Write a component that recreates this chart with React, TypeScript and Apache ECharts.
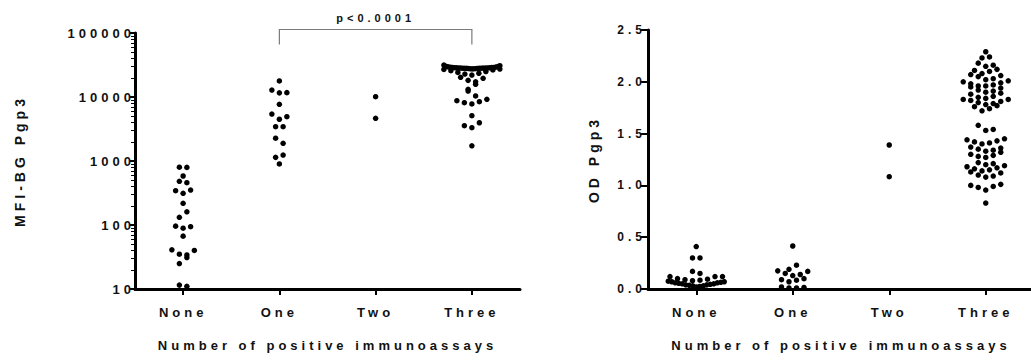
import React, { useEffect, useRef } from 'react';
import * as echarts from 'echarts';

// ---------- data ----------
const categories = ['None', 'One', 'Two', 'Three'];

// Left panel: MFI-BG Pgp3 (log scale)
const mfiNone = [800, 795, 583, 482, 458, 352, 344, 313, 218, 161, 132, 96, 94, 89, 67, 41, 40, 35, 34, 31, 25, 11.5, 11];
const mfiOne = [17800, 12850, 11700, 11600, 7690, 5420, 4920, 4490, 3440, 3430, 2270, 1890, 1240, 1140, 900];
const mfiTwo = [10100, 4640];
const mfiThree = [
  31500, 30800, 30200, 29800, 29600, 29400, 29200, 29000, 28900, 28800, 28700, 28600, 28500, 28450, 28400,
  28350, 28300, 28250, 28200, 28150, 28100, 28050, 28000, 27900, 27800, 27700, 27600, 27500, 27300, 27000,
  26500, 25800, 25000, 24200, 23500, 22800, 22000,
  20300, 19600, 18200, 17300, 15800, 13200, 12400, 10400, 9200, 8760, 8450, 8140, 7780, 5100, 3960, 3560, 3310, 1730,
];

// Right panel: OD Pgp3 (linear)
const odNone = [
  0.41, 0.30, 0.30, 0.17, 0.15, 0.12, 0.12, 0.12,
  0.10, 0.095, 0.09, 0.085, 0.08, 0.075, 0.07, 0.07, 0.065, 0.06, 0.06, 0.055, 0.05, 0.05, 0.045, 0.04, 0.04, 0.035,
  0.03, 0.03, 0.025, 0.02,
];
const odOne = [0.415, 0.23, 0.19, 0.175, 0.17, 0.15, 0.14, 0.13, 0.10, 0.09, 0.085, 0.07, 0.02, 0.015, 0.01, 0.01];
const odTwo = [1.39, 1.084];
const odThree = [
  2.29, 2.24, 2.23, 2.18, 2.16, 2.15, 2.12, 2.11, 2.10, 2.08, 2.07, 2.06, 2.05,
  2.03, 2.02, 2.01, 2.00, 1.99, 1.98, 1.97, 1.96, 1.96, 1.95, 1.94,
  1.92, 1.91, 1.90, 1.89, 1.88, 1.86, 1.85, 1.84, 1.83, 1.83, 1.82, 1.81, 1.80,
  1.79, 1.78, 1.77, 1.76, 1.74, 1.72,
  1.58, 1.54, 1.53,
  1.45, 1.44, 1.43, 1.42, 1.41, 1.40, 1.37, 1.36, 1.35, 1.34, 1.33, 1.32,
  1.30, 1.29, 1.28, 1.27, 1.22, 1.21, 1.20, 1.19,
  1.18, 1.17, 1.16, 1.15, 1.14, 1.13, 1.12, 1.10, 1.09, 1.08,
  1.01, 1.00, 0.99, 0.98, 0.955, 0.83,
];

const mfiDecades = [10, 100, 1000, 10000];
const mfiMax = 100000;
const minorMultipliers = [2, 3, 4, 5, 6, 7, 8, 9];
const odTicks = [0, 0.5, 1.0, 1.5, 2.0, 2.5];

const pText = 'p<0.0001';
const xTitle = 'Number of positive immunoassays';
const yTitleLeft = 'MFI-BG Pgp3';
const yTitleRight = 'OD Pgp3';

// ---------- styling ----------
const FONT = "'Liberation Sans', Arial, Helvetica, sans-serif";
const TXT = '#111111';
const AX = '#000000';

// Prism-like column scatter layout: bins by pixel height, rows centered, low values in centre
function swarmOffsets(pys: number[], vals: number[], binH: number, sp: number, maxW: number): number[] {
  const idx = vals.map((_, i) => i).sort((a, b) => vals[a] - vals[b]);
  const out = new Array(vals.length).fill(0);
  const bins: number[][] = [];
  let cur: number[] = [];
  let start = 0;
  idx.forEach((i) => {
    if (cur.length === 0) {
      cur.push(i);
      start = pys[i];
    } else if (Math.abs(start - pys[i]) < binH) {
      cur.push(i);
    } else {
      bins.push(cur);
      cur = [i];
      start = pys[i];
    }
  });
  if (cur.length) bins.push(cur);
  bins.forEach((bin, bi) => {
    const n = bin.length;
    const s = n > 1 ? Math.min(sp, (2 * maxW) / (n - 1)) : sp;
    const slots: number[] = [];
    for (let k = 0; k < n; k++) slots.push((k - (n - 1) / 2) * s);
    const sign = bi % 2 === 0 ? 1 : -1;
    slots.sort((a, b) => Math.abs(a) - Math.abs(b) || sign * (b - a));
    bin.forEach((i, k) => {
      out[i] = slots[k];
    });
  });
  return out;
}

function baseOption(leftData: any[], rightData: any[]) {
  const axisLabel = { fontFamily: FONT, fontWeight: 'bold', color: TXT };
  const xAxisCommon = (gi: number) => ({
    type: 'category',
    gridIndex: gi,
    data: categories,
    boundaryGap: true,
    axisLine: { show: true, lineStyle: { color: AX, width: 3, opacity: 1 } },
    axisTick: { show: true, alignWithLabel: true, length: 6, lineStyle: { color: AX, width: 2, opacity: 1 } },
    axisLabel: { ...axisLabel, fontSize: 13, margin: 17 },
    splitLine: { show: false },
    name: xTitle,
    nameLocation: 'middle',
    nameGap: 50,
    nameMoveOverlap: false,
    nameTextStyle: { fontFamily: FONT, fontWeight: 'bold', fontSize: 13, color: TXT },
  });
  return {
    animation: false,
    backgroundColor: '#ffffff',
    grid: [
      { left: 135, top: 33, width: 385, height: 256, outerBoundsMode: 'none', containLabel: false },
      { left: 648, top: 30, width: 386, height: 259, outerBoundsMode: 'none', containLabel: false },
    ],
    xAxis: [xAxisCommon(0), xAxisCommon(1)],
    yAxis: [
      {
        type: 'log',
        logBase: 10,
        gridIndex: 0,
        min: mfiDecades[0],
        max: mfiMax,
        axisLine: { show: true, lineStyle: { color: AX, width: 3, opacity: 1 } },
        axisTick: { show: true, length: 5, lineStyle: { color: AX, width: 2, opacity: 1 } },
        axisLabel: { ...axisLabel, fontSize: 13, margin: 0, formatter: (v: number) => String(Math.round(v)) },
        splitLine: { show: false },
        name: yTitleLeft,
        nameLocation: 'middle',
        nameRotate: 90,
        nameGap: 108,
        nameMoveOverlap: false,
        nameTextStyle: { fontFamily: FONT, fontWeight: 'bold', fontSize: 14, color: TXT },
      },
      {
        type: 'value',
        gridIndex: 1,
        min: odTicks[0],
        max: odTicks[odTicks.length - 1],
        interval: 0.5,
        axisLine: { show: true, lineStyle: { color: AX, width: 3, opacity: 1 } },
        axisTick: { show: true, length: 8, lineStyle: { color: AX, width: 2, opacity: 1 } },
        axisLabel: { ...axisLabel, fontSize: 12, margin: 2, formatter: (v: number) => v.toFixed(1) },
        splitLine: { show: false },
        name: yTitleRight,
        nameLocation: 'middle',
        nameRotate: 90,
        nameGap: 47,
        nameMoveOverlap: false,
        nameTextStyle: { fontFamily: FONT, fontWeight: 'bold', fontSize: 14, color: TXT },
      },
    ],
    series: [
      {
        type: 'scatter',
        xAxisIndex: 0,
        yAxisIndex: 0,
        symbol: 'circle',
        symbolSize: 5.5,
        itemStyle: { color: '#000', opacity: 1 },
        data: leftData,
        z: 5,
      },
      {
        type: 'scatter',
        xAxisIndex: 1,
        yAxisIndex: 1,
        symbol: 'circle',
        symbolSize: 5.5,
        itemStyle: { color: '#000', opacity: 1 },
        data: rightData,
        z: 5,
      },
      {
        type: 'custom',
        xAxisIndex: 0,
        yAxisIndex: 0,
        clip: false,
        silent: true,
        data: mfiDecades.flatMap((d) => minorMultipliers.map((m) => [0, d * m])),
        renderItem: (params: any, api: any) => {
          const y = Math.round(api.coord([0, api.value(1)])[1]) + 0.5;
          const x0 = params.coordSys.x;
          return {
            type: 'line',
            shape: { x1: x0 - 4, y1: y, x2: x0, y2: y },
            style: { stroke: AX, lineWidth: 1 },
          };
        },
      },
      {
        type: 'custom',
        xAxisIndex: 0,
        yAxisIndex: 0,
        clip: false,
        silent: true,
        data: [[1, 3]],
        renderItem: (params: any, api: any) => {
          const a = api.coord([api.value(0), mfiMax]);
          const b = api.coord([api.value(1), mfiMax]);
          const top = Math.round(a[1] - 4) + 0.5;
          const mid = (a[0] + b[0]) / 2;
          return {
            type: 'group',
            children: [
              {
                type: 'polyline',
                shape: { points: [[a[0], top + 15], [a[0], top], [b[0], top], [b[0], top + 15]] },
                style: { stroke: '#7a7a7a', lineWidth: 1.2, fill: 'none' },
              },
              {
                type: 'text',
                x: mid,
                y: top - 12,
                style: {
                  text: pText,
                  textAlign: 'center',
                  textVerticalAlign: 'middle',
                  font: `bold 11px ${FONT}`,
                  fill: TXT,
                },
              },
            ],
          };
        },
      },
    ],
  };
}

export default function App() {
  const ref = useRef<HTMLDivElement>(null);
  useEffect(() => {
    const el = ref.current!;
    const chart = echarts.init(el, null, { renderer: 'svg' });
    const leftGroups = [mfiNone, mfiOne, mfiTwo, mfiThree];
    const rightGroups = [odNone, odOne, odTwo, odThree];
    const plain = (groups: number[][]) => groups.flatMap((g, gi) => g.map((v) => [gi, v]));
    chart.setOption(baseOption(plain(leftGroups), plain(rightGroups)) as any);

    const layout = (groups: number[][], axis: number) =>
      groups.flatMap((g, gi) => {
        const pys = g.map((v) => chart.convertToPixel({ yAxisIndex: axis } as any, v) as unknown as number);
        const offs = swarmOffsets(pys, g, 6, 7.5, 28);
        return g.map((v, i) => ({ value: [gi, v], symbolOffset: [offs[i], 0] }));
      });
    const leftData = layout(leftGroups, 0);
    const rightData = layout(rightGroups, 1);
    chart.setOption(baseOption(leftData, rightData) as any, true);
    return () => chart.dispose();
  }, []);
  return (
    <div
      ref={ref}
      style={{
        position: 'fixed',
        left: 0,
        top: 0,
        width: 1031,
        height: 360,
        letterSpacing: '4px',
        background: '#fff',
      }}
    />
  );
}
